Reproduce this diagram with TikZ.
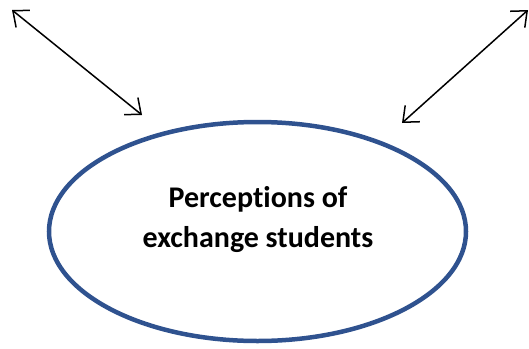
\documentclass[tikz,border=0pt]{standalone}
\usepackage{fontspec}
\setmainfont[Ligatures=NoCommon]{Carlito}
\usetikzlibrary{arrows.meta}
\definecolor{ringblue}{HTML}{2F528F}
\tikzset{
  link/.style={draw=black, line width=1.5pt, {Straight Barb[length=13pt,width=22pt]}-{Straight Barb[length=13pt,width=22pt]}},
  label/.style={font=\fontsize{30}{40}\selectfont\bfseries, align=center, text=black}
}
\begin{document}
\begin{tikzpicture}[x=1pt,y=-1pt]
\useasboundingbox (0,0) rectangle (529,348);
\draw[ringblue, line width=4.5pt] (257.5,231.5) ellipse [x radius=208.5, y radius=109.5];
\node[label] (t) at (258,220) {Perceptions of\\exchange students};
\coordinate (a1) at (12,10);
\coordinate (a2) at (142,115);
\coordinate (b1) at (528,10);
\coordinate (b2) at (402,123);
\draw[link] (a1) -- (a2);
\draw[link] (b1) -- (b2);
\end{tikzpicture}
\end{document}
